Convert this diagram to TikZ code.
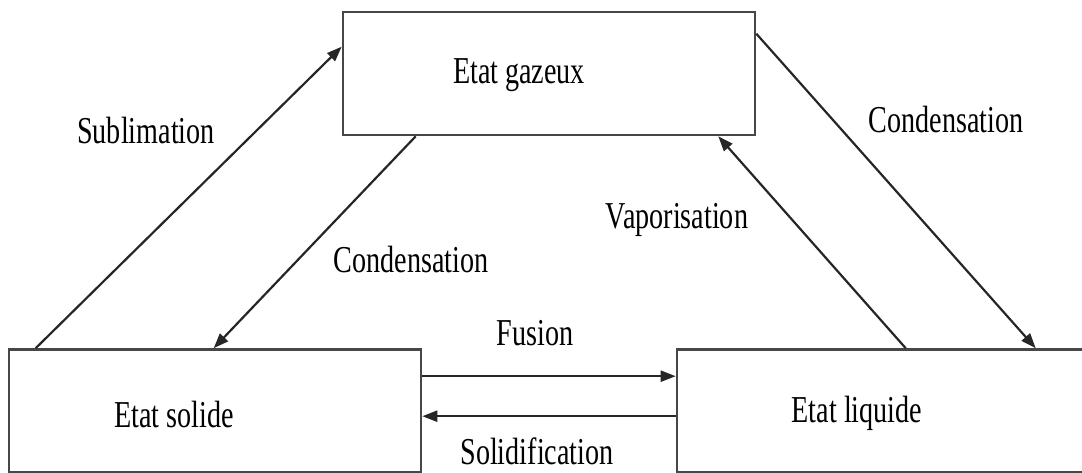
\documentclass[tikz,border=0pt]{standalone}
\usepackage{fontspec}
\setmainfont[FakeStretch=0.74]{Liberation Serif}
\usetikzlibrary{arrows.meta}
\tikzset{
  etat/.style={draw=black!72, line width=2.6pt, minimum width=412pt, minimum height=123pt},
  fl/.style={draw=black!85, line width=2.2pt, -{Triangle[length=15pt,width=11pt]}},
  txt/.style={font=\fontsize{38}{40}\selectfont}
}
\begin{document}
\begin{tikzpicture}[x=1pt,y=-1pt]
\useasboundingbox (0,0) rectangle (1082,473);
\node[etat] (gaz) at (549,73.5) {};
\node[etat] (solide) at (215,411) {};
\node[etat] (liq) at (883,411) {};
\node[txt] (gazT) at (519,75) {Etat gazeux};
\node[txt] (solideT) at (174,415) {Etat solide};
\node[txt] (liqT) at (857,413) {Etat liquide};
\draw[fl] ([xshift=28]solide.north west) -- ([yshift=-36]gaz.north west);
\draw[fl] ([xshift=74]gaz.south west) -- ([xshift=206]solide.north west);
\draw[fl] ([xshift=230]liq.north west) -- ([xshift=-38]gaz.south east);
\draw[fl] ([yshift=-23]gaz.north east) -- ([xshift=360]liq.north west);
\draw[fl] ([yshift=-28]solide.north east) -- ([yshift=-28]liq.north west);
\draw[fl] ([yshift=-68]liq.north west) -- ([yshift=-68]solide.north east);
\node[txt] (sub) at (146,131) {Sublimation};
\node[txt] (condA) at (411,260) {Condensation};
\node[txt] (vap) at (677,220) {Vaporisation};
\node[txt] (condB) at (946,120) {Condensation};
\node[txt] (fus) at (535,333) {Fusion};
\node[txt] (sol) at (537,451) {Solidification};
\end{tikzpicture}
\end{document}
